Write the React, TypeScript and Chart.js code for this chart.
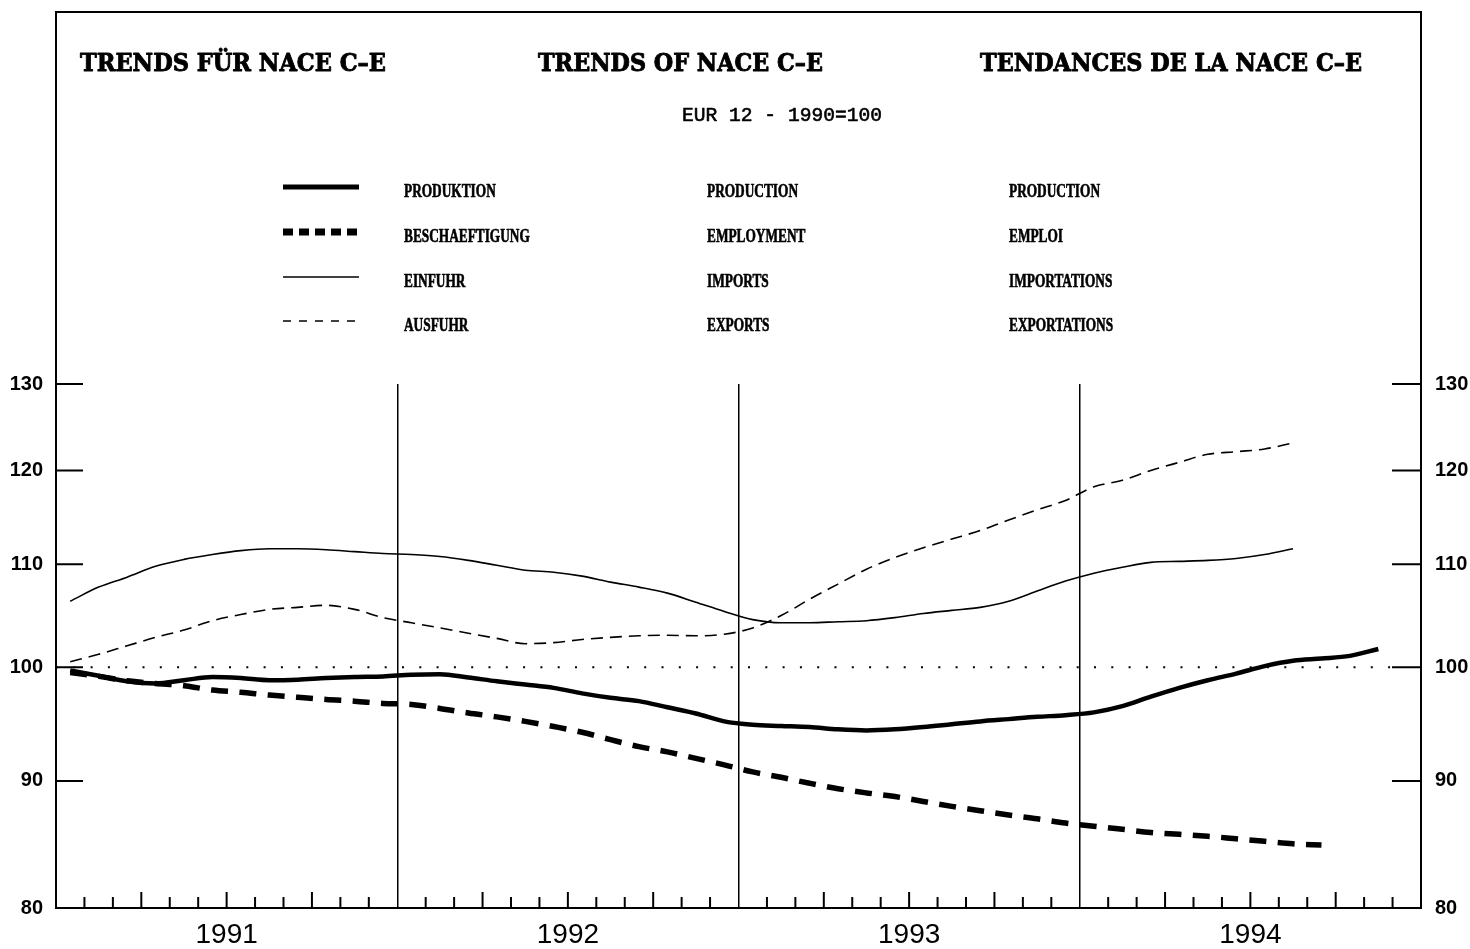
import React, { useEffect, useRef } from 'react';
import { Chart, registerables } from 'chart.js';

Chart.register(...registerables);

// ---- data (monthly, Jan 1991 = index 0, plotted at mid-month) ----
const YEARS = ['1991', '1992', '1993', '1994'];
const Y_TICKS = [80, 90, 100, 110, 120, 130];
const REFERENCE_LEVEL = 100;

const PRODUCTION = [
  99.7, 99.2, 98.7, 98.5, 98.8, 99.1, 99.0, 98.8, 98.85, 99.0, 99.1, 99.15,
  99.3, 99.35, 99.05, 98.7, 98.4, 98.1, 97.6, 97.2, 96.9, 96.35, 95.8, 95.1,
  94.8, 94.7, 94.6, 94.4, 94.3, 94.4, 94.6, 94.85, 95.1, 95.3, 95.5, 95.65,
  95.9, 96.45, 97.3, 98.1, 98.8, 99.4, 100.1, 100.6, 100.8, 101.05, 101.7,
];
const EMPLOYMENT = [
  99.5, 99.15, 98.75, 98.5, 98.3, 97.9, 97.7, 97.45, 97.25, 97.05, 96.9, 96.7,
  96.6, 96.25, 95.85, 95.5, 95.1, 94.65, 94.15, 93.5, 92.9, 92.45, 91.9, 91.35,
  90.75, 90.3, 89.8, 89.35, 89.0, 88.7, 88.3, 87.9, 87.55, 87.2, 86.9, 86.55,
  86.3, 86.05, 85.8, 85.65, 85.5, 85.3, 85.1, 84.9, 84.8,
];
const IMPORTS = [
  106.3, 107.7, 108.7, 109.8, 110.5, 111.0, 111.4, 111.6, 111.6, 111.5, 111.3, 111.1,
  111.0, 110.8, 110.4, 109.9, 109.4, 109.2, 108.8, 108.2, 107.7, 107.1, 106.2, 105.3,
  104.5, 104.2, 104.2, 104.3, 104.4, 104.7, 105.1, 105.4, 105.7, 106.3, 107.3, 108.3,
  109.1, 109.7, 110.2, 110.3, 110.4, 110.6, 111.0, 111.6,
];
const EXPORTS = [
  100.5, 101.2, 102.0, 102.8, 103.5, 104.4, 105.0, 105.5, 105.7, 105.9, 105.5, 104.7,
  104.2, 103.7, 103.2, 102.7, 102.2, 102.3, 102.6, 102.8, 102.95, 103.0, 102.95, 103.1,
  103.7, 104.9, 106.5, 108.0, 109.5, 110.7, 111.7, 112.6, 113.5, 114.6, 115.7, 116.7,
  118.2, 118.9, 120.0, 120.9, 121.8, 122.1, 122.4, 123.1,
];

const TITLES = ['TRENDS FÜR NACE C–E', 'TRENDS OF NACE C–E', 'TENDANCES DE LA NACE C–E'];
const SUBTITLE = 'EUR 12 - 1990=100';
const LEGEND_DE = ['PRODUKTION', 'BESCHAEFTIGUNG', 'EINFUHR', 'AUSFUHR'];
const LEGEND_EN = ['PRODUCTION', 'EMPLOYMENT', 'IMPORTS', 'EXPORTS'];
const LEGEND_FR = ['PRODUCTION', 'EMPLOI', 'IMPORTATIONS', 'EXPORTATIONS'];

const MONTHS = YEARS.length * 12;
const toPoints = (arr: number[]) => arr.map((v, i) => ({ x: i + 0.5, y: v }));

const W = 1470;
const H = 949;

function drawText(
  ctx: CanvasRenderingContext2D,
  text: string,
  x: number,
  y: number,
  font: string,
  opts: { width?: number; scaleX?: number; stroke?: number } = {}
) {
  ctx.save();
  ctx.font = font;
  ctx.textBaseline = 'alphabetic';
  ctx.textAlign = 'left';
  ctx.fillStyle = '#000';
  ctx.strokeStyle = '#000';
  const w = ctx.measureText(text).width;
  const sx = opts.width ? opts.width / w : opts.scaleX ?? 1;
  ctx.translate(x, y);
  ctx.scale(sx, 1);
  ctx.fillText(text, 0, 0);
  if (opts.stroke) {
    ctx.lineWidth = opts.stroke;
    ctx.lineJoin = 'round';
    ctx.strokeText(text, 0, 0);
  }
  ctx.restore();
}

const decorPlugin = {
  id: 'decor',
  beforeDatasetsDraw(chart: any) {
    const ctx: CanvasRenderingContext2D = chart.ctx;
    const { left, right, bottom } = chart.chartArea;
    const xs = chart.scales.x;
    const ys = chart.scales.y;
    ctx.save();
    ctx.strokeStyle = '#000';
    ctx.lineCap = 'butt';
    // frame
    ctx.lineWidth = 2;
    ctx.strokeRect(left, 12, right - left, bottom - 12);
    // month ticks on the bottom axis
    ctx.lineWidth = 2;
    for (let m = 1; m < MONTHS; m++) {
      if (m % 12 === 0) continue;
      const px = xs.getPixelForValue(m);
      const len = m % 3 === 0 ? 16 : 11;
      ctx.beginPath();
      ctx.moveTo(px, bottom);
      ctx.lineTo(px, bottom - len);
      ctx.stroke();
    }
    // value ticks on both sides
    for (const v of Y_TICKS) {
      if (v === Y_TICKS[0]) continue;
      const py = ys.getPixelForValue(v);
      ctx.beginPath();
      ctx.moveTo(left, py);
      ctx.lineTo(left + 27, py);
      ctx.moveTo(right - 29, py);
      ctx.lineTo(right, py);
      ctx.stroke();
    }
    ctx.restore();
  },
  afterDraw(chart: any) {
    const ctx: CanvasRenderingContext2D = chart.ctx;
    // titles
    const titleFont = 'bold 24px "DejaVu Serif"';
    drawText(ctx, TITLES[0], 80, 71, titleFont, { width: 306, stroke: 0.9 });
    drawText(ctx, TITLES[1], 538, 71, titleFont, { width: 285, stroke: 0.9 });
    drawText(ctx, TITLES[2], 980, 71, titleFont, { width: 382, stroke: 0.9 });
    drawText(ctx, SUBTITLE, 682, 121, '20px "Liberation Mono"', { width: 200, stroke: 0.6 });

    // legend
    const rowsY = [187, 232, 277, 321];
    const styles = [
      { w: 5, dash: [] as number[] },
      { w: 7, dash: [10, 6] },
      { w: 1.5, dash: [] as number[] },
      { w: 1.5, dash: [8, 8] },
    ];
    ctx.save();
    ctx.strokeStyle = '#000';
    ctx.lineCap = 'butt';
    rowsY.forEach((y, i) => {
      ctx.lineWidth = styles[i].w;
      ctx.setLineDash(styles[i].dash);
      ctx.beginPath();
      ctx.moveTo(283, y);
      ctx.lineTo(359, y);
      ctx.stroke();
    });
    ctx.restore();
    const lf = 'bold 18px "Liberation Serif"';
    rowsY.forEach((y, i) => {
      const base = y + 10;
      drawText(ctx, LEGEND_DE[i], 404, base, lf, { scaleX: 0.74, stroke: 0.6 });
      drawText(ctx, LEGEND_EN[i], 707, base, lf, { scaleX: 0.74, stroke: 0.6 });
      drawText(ctx, LEGEND_FR[i], 1009, base, lf, { scaleX: 0.74, stroke: 0.6 });
    });
  },
};

const yAxis = (position: 'left' | 'right', width: number, padding: number) => ({
  type: 'logarithmic' as const,
  position,
  min: 80,
  max: 130,
  afterBuildTicks: (s: any) => {
    s.ticks = Y_TICKS.map((v) => ({ value: v }));
  },
  afterFit: (s: any) => {
    s.width = width;
  },
  grid: { display: false, drawTicks: false },
  border: { display: false },
  ticks: {
    padding,
    color: '#000',
    font: { family: '"Liberation Sans"', size: 20, weight: 'bold' as const },
    callback: (v: any) => String(v),
  },
});

export default function App() {
  const ref = useRef<HTMLCanvasElement | null>(null);

  useEffect(() => {
    if (!ref.current) return;
    const lineBase = {
      borderColor: '#000',
      pointRadius: 0,
      fill: false,
      cubicInterpolationMode: 'monotone' as const,
      borderCapStyle: 'butt' as const,
      yAxisID: 'y',
    };
    const chart = new Chart(ref.current, {
      type: 'line',
      data: {
        datasets: [
          {
            ...lineBase,
            label: 'ref',
            data: [
              { x: 0, y: REFERENCE_LEVEL },
              { x: MONTHS - 1, y: REFERENCE_LEVEL },
            ],
            borderWidth: 2,
            borderDash: [2, 15.3],
          },
          { ...lineBase, label: 'EINFUHR', data: toPoints(IMPORTS), borderWidth: 1.6 },
          {
            ...lineBase,
            label: 'AUSFUHR',
            data: toPoints(EXPORTS),
            borderWidth: 1.6,
            borderDash: [12, 7],
          },
          {
            ...lineBase,
            label: 'BESCHAEFTIGUNG',
            data: toPoints(EMPLOYMENT),
            borderWidth: 5.5,
            borderDash: [17, 11.4],
          },
          { ...lineBase, label: 'PRODUKTION', data: toPoints(PRODUCTION), borderWidth: 4.5 },
        ],
      },
      options: {
        animation: false,
        responsive: false,
        devicePixelRatio: 1,
        layout: { padding: { top: 384, left: 0, right: 0, bottom: 0 } },
        plugins: { legend: { display: false }, tooltip: { enabled: false }, title: { display: false } },
        scales: {
          x: {
            type: 'linear',
            min: 0,
            max: MONTHS,
            afterBuildTicks: (s: any) => {
              const t = [];
              for (let v = 0; v <= MONTHS; v += 6) t.push({ value: v });
              s.ticks = t;
            },
            afterFit: (s: any) => {
              s.height = 41;
            },
            grid: {
              drawTicks: false,
              lineWidth: 1.5,
              color: (c: any) => {
                const v = c.tick?.value;
                return v > 0 && v < MONTHS && v % 12 === 0 ? '#000' : 'rgba(0,0,0,0)';
              },
            },
            border: { display: false },
            ticks: {
              autoSkip: false,
              maxRotation: 0,
              padding: 10,
              color: '#000',
              font: { family: '"Liberation Sans"', size: 28, weight: 'normal' as const },
              callback: (v: any) => (v % 12 === 6 ? YEARS[(v - 6) / 12] : ''),
            },
          },
          y: yAxis('left', 56, 13),
          y2: yAxis('right', 49, 14),
        },
      },
      plugins: [decorPlugin],
    });
    return () => chart.destroy();
  }, []);

  return (
    <div style={{ position: 'fixed', left: 0, top: 0, width: W, height: H, background: '#fff' }}>
      <canvas ref={ref} width={W} height={H} style={{ display: 'block', width: W, height: H }} />
    </div>
  );
}
